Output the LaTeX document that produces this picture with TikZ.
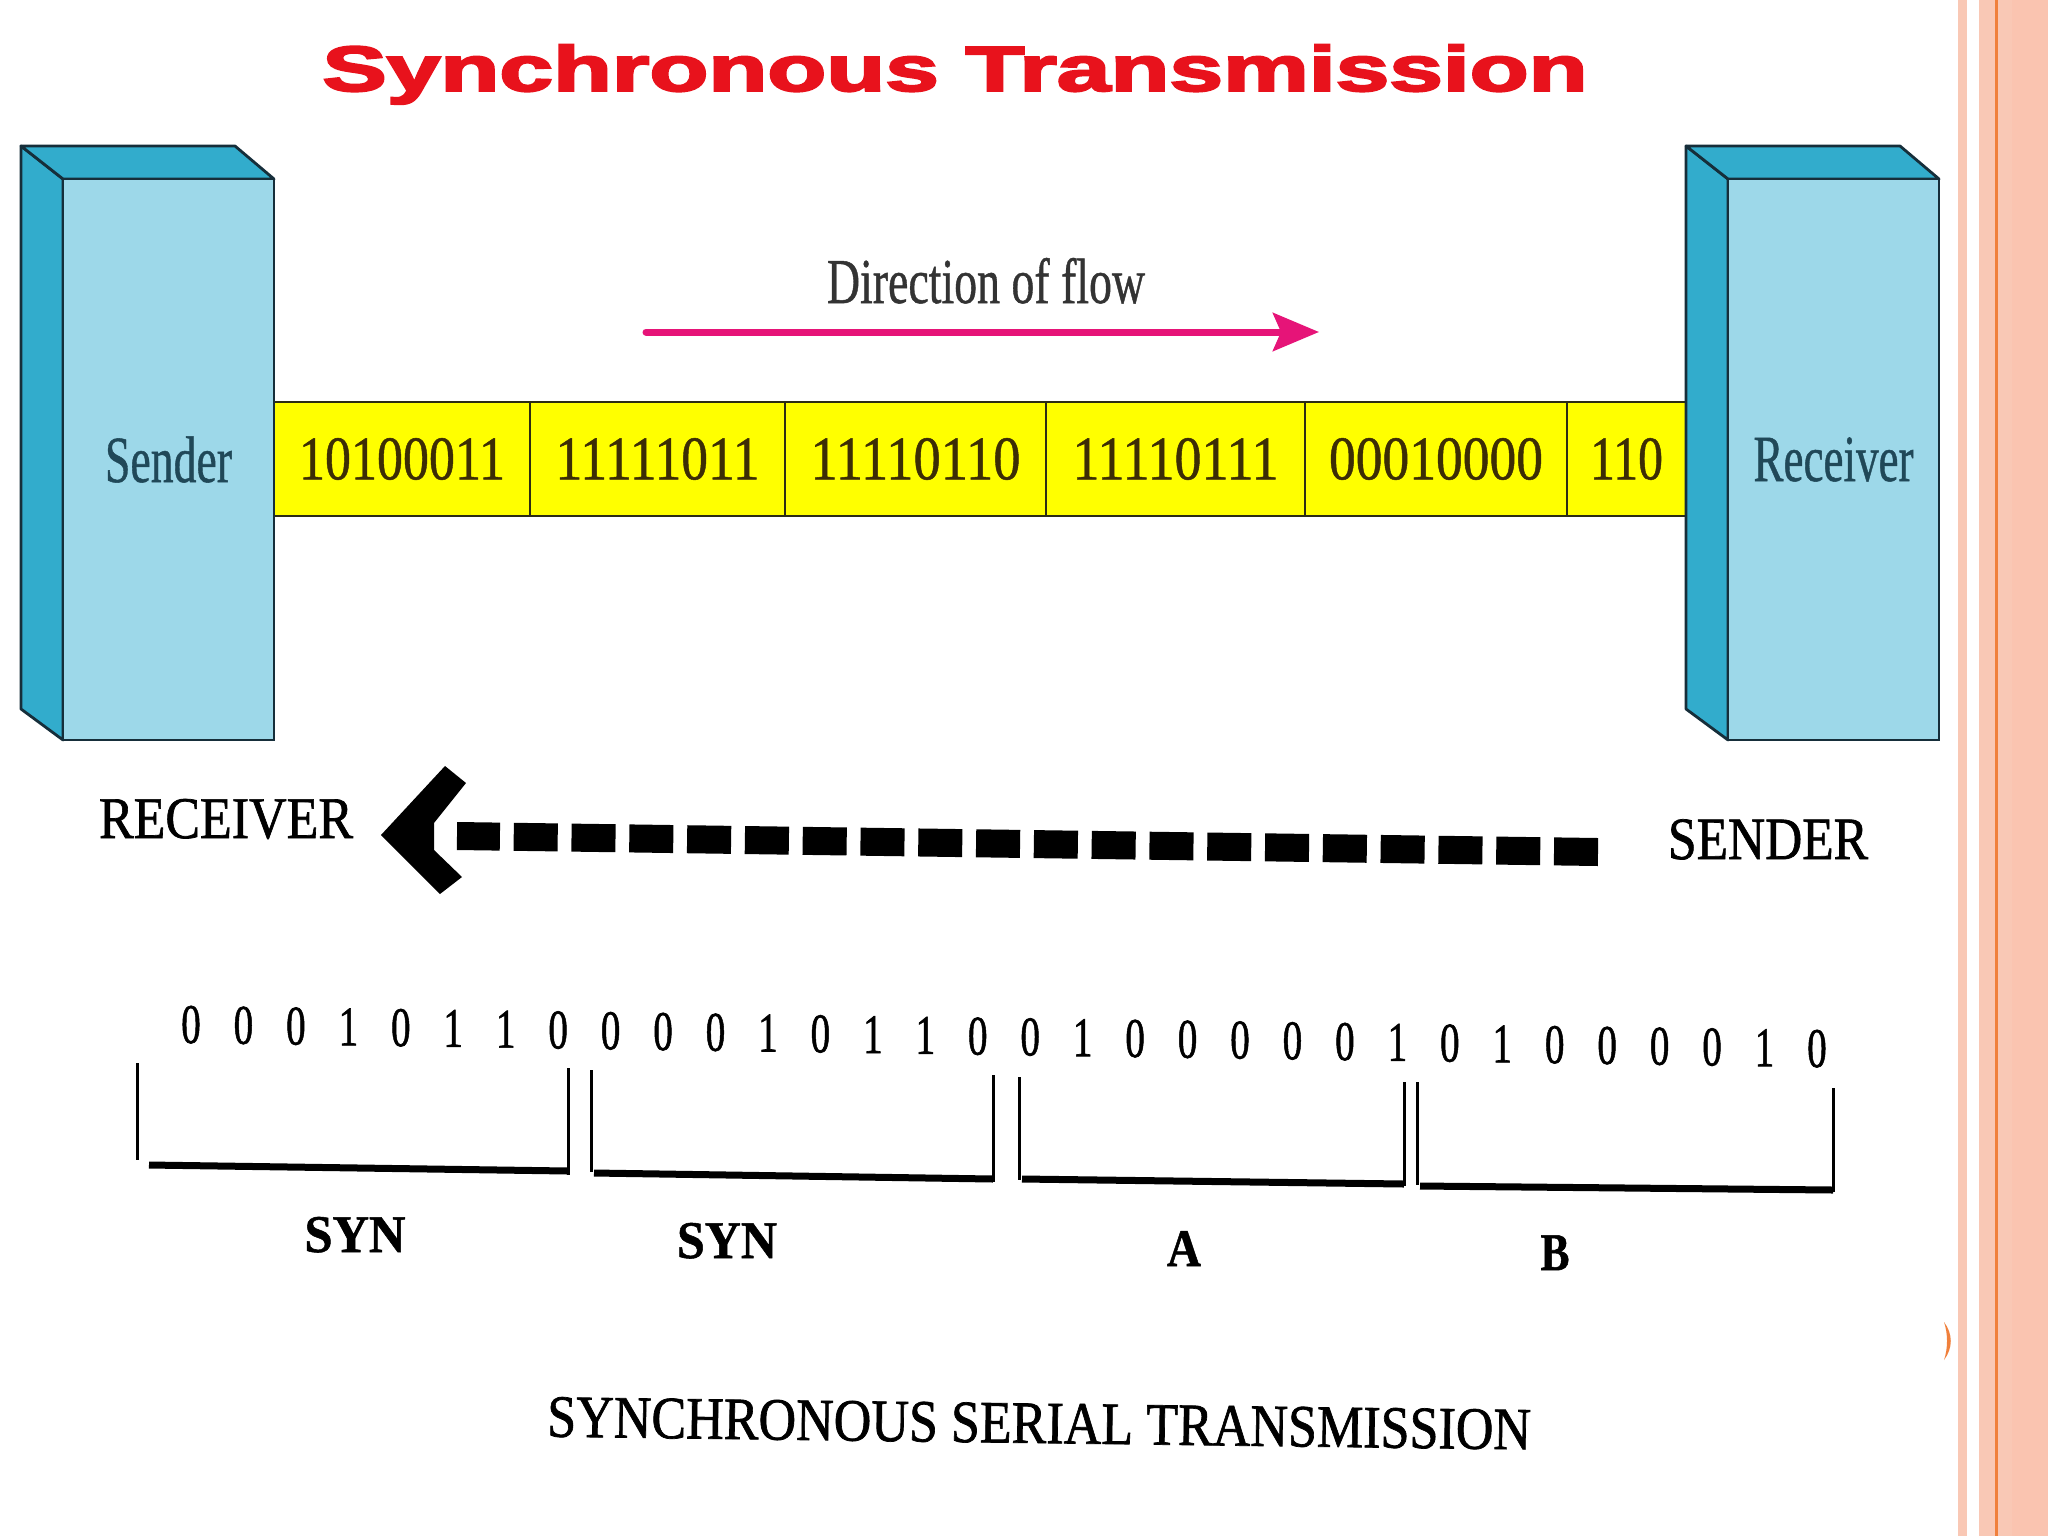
\documentclass[tikz,border=0pt]{standalone}
\usepackage{fontspec}
\usepackage{graphicx}
\setmainfont{Liberation Serif}
\newfontfamily\titlefont[FakeBold=3]{Liberation Sans Bold}
\newfontfamily\scanfont[FakeBold=1.2]{Liberation Serif}
\newfontfamily\scanbold[FakeBold=1]{Liberation Serif Bold}
\newfontfamily\bandfont[FakeBold=0.8]{Liberation Serif}
\usetikzlibrary{arrows.meta}
\newdimen\pxu \pxu=0.5pt
\newcommand\fitw[2]{\resizebox{#1\pxu}{\height}{#2}}
\definecolor{titlered}{RGB}{232,18,28}
\definecolor{frontc}{RGB}{157,216,233}
\definecolor{sidec}{RGB}{50,172,204}
\definecolor{edgec}{RGB}{22,46,58}
\definecolor{lblc}{RGB}{32,72,88}
\definecolor{bandc}{RGB}{255,255,0}
\definecolor{bandedge}{RGB}{45,45,20}
\definecolor{bandtext}{RGB}{60,45,5}
\definecolor{flowc}{RGB}{230,20,120}
\definecolor{salmon}{RGB}{249,200,181}
\definecolor{salmonb}{RGB}{250,196,176}
\definecolor{orangec}{RGB}{240,128,60}
\tikzset{
  boxfront/.style={draw=edgec, line width=1.4pt, fill=frontc, minimum width=105.5pt,
    minimum height=280.5pt, text=lblc, font=\bandfont\fontsize{33}{36}\selectfont},
  boxface/.style={draw=edgec, line width=1.4pt, fill=sidec, line join=round},
  cell/.style={draw=bandedge, line width=1.4pt, fill=bandc, minimum height=57pt,
    anchor=west, text=bandtext, font=\bandfont\fontsize{31}{34}\selectfont},
  caps/.style={anchor=base, text=black, font=\scanfont\fontsize{30}{34}\selectfont},
  bitlbl/.style={anchor=base, text=black, font=\scanfont\fontsize{28}{32}\selectfont},
  grplbl/.style={anchor=base, text=black, font=\scanbold\fontsize{26.5}{30}\selectfont},
  brkside/.style={line width=1.5pt, black},
  brkbase/.style={line width=3.5pt, black},
}
\begin{document}
\begin{tikzpicture}[x=0.5pt,y=-0.5pt, every node/.style={inner sep=0pt, outer sep=0pt}]
\useasboundingbox (0,0) rectangle (2048,1536);
\fill[white] (0,0) rectangle (2048,1536);
% right-hand decoration
\fill[salmon] (1958,0) rectangle (1967,1536);
\fill[salmon] (1979,0) rectangle (2048,1536);
\fill[salmonb] (2012,0) rectangle (2048,1536);
\fill[orangec] (1995,0) rectangle (1998,1536);
\fill[orangec] (1944,1322) .. controls (1953,1334) and (1953,1348) .. (1944,1360)
  .. controls (1948,1348) and (1948,1334) .. (1944,1322) -- cycle;

% title
\node[anchor=base, text=titlered, font={\titlefont\fontsize{32}{36}\selectfont}]
  (title) at (955,91) {\fitw{1265}{Synchronous Transmission}};

% data band
\node[cell, minimum width=128pt]   (c1) at (274,459) {\fitw{206}{10100011}};
\node[cell, minimum width=127.5pt] (c2) at (c1.east) {\fitw{204}{11111011}};
\node[cell, minimum width=130.5pt] (c3) at (c2.east) {\fitw{210}{11110110}};
\node[cell, minimum width=129.5pt] (c4) at (c3.east) {\fitw{206}{11110111}};
\node[cell, minimum width=131pt]   (c5) at (c4.east) {\fitw{214}{00010000}};
\node[cell, minimum width=59.5pt]  (c6) at (c5.east) {\fitw{73}{110}};

% sender box
\path[boxface] (21,146) -- (63,179) -- (63,740) -- (21,709) -- cycle;
\path[boxface] (21,146) -- (235,146) -- (274,179) -- (63,179) -- cycle;
\node[boxfront] (sender) at (168.5,459.5) {\fitw{127}{Sender}};
% receiver box
\path[boxface] (1686,146) -- (1728,179) -- (1728,740) -- (1686,709) -- cycle;
\path[boxface] (1686,146) -- (1900,146) -- (1939,179) -- (1728,179) -- cycle;
\node[boxfront] (receiver) at (1833.5,459.5) {\fitw{160}{Receiver}};

% direction of flow
\node[anchor=base, text=black!80, font=\bandfont\fontsize{32}{36}\selectfont] (dir) at (986,303)
  {\fitw{318}{Direction of flow}};
\coordinate (flowL) at (646,332);
\coordinate (flowR) at (1319,332);
\draw[flowc, line width=3.5pt, line cap=round,
  -{Stealth[length=23pt, width=19pt, inset=4pt]}] (flowL) -- (flowR);

% serial link sender -> receiver
\node[caps, font=\scanfont\fontsize{29.5}{33}\selectfont] (rx) at (226,838) {\fitw{254}{RECEIVER}};
\node[caps] (tx) at (1768,859) {\fitw{200}{SENDER}};
\coordinate (dashR) at (1598,852);
\coordinate (dashL) at (457,836);
\draw[black, line width=14pt, dash pattern=on 22pt off 6.9pt] (dashR) -- (dashL);
\fill[black] (381,835) -- (445,766) -- (466,783) -- (434,823) -- (434,850)
  -- (462,877) -- (440,894) -- cycle;

% bit string
\foreach \b [count=\i from 0] in {0,0,0,1,0,1,1,0,0,0,0,1,0,1,1,0,0,1,0,0,0,0,0,1,0,1,0,0,0,0,1,0}{
  \node[bitlbl] (bit\i) at ({191+52.45*\i},{1043+0.774*\i}) {\scalebox{0.7}[1]{\b}};
}

% brackets
\draw[brkside] (137,1063) -- (137,1160);
\draw[brkbase] (149,1165) -- (568,1171);
\draw[brkside] (568,1068) -- (568,1175);
\draw[brkside] (591,1070) -- (591,1172);
\draw[brkbase] (594,1173) -- (993,1179);
\draw[brkside] (993,1075) -- (993,1182);
\draw[brkside] (1019,1077) -- (1019,1180);
\draw[brkbase] (1022,1179) -- (1404,1184);
\draw[brkside] (1404,1082) -- (1404,1186);
\draw[brkside] (1417,1082) -- (1417,1185);
\draw[brkbase] (1420,1186) -- (1833,1190);
\draw[brkside] (1833,1088) -- (1833,1192);

% group labels
\node[grplbl] (syn1) at (355,1252) {\fitw{101}{SYN}};
\node[grplbl] (syn2) at (727,1258) {\fitw{100}{SYN}};
\node[grplbl] (grpA) at (1184,1266) {\fitw{34}{A}};
\node[grplbl] (grpB) at (1555,1270) {\fitw{29}{B}};

% caption
\node[caps, rotate=-0.75] (caption) at (1039,1443) {\fitw{984}{SYNCHRONOUS SERIAL TRANSMISSION}};
\end{tikzpicture}
\end{document}
